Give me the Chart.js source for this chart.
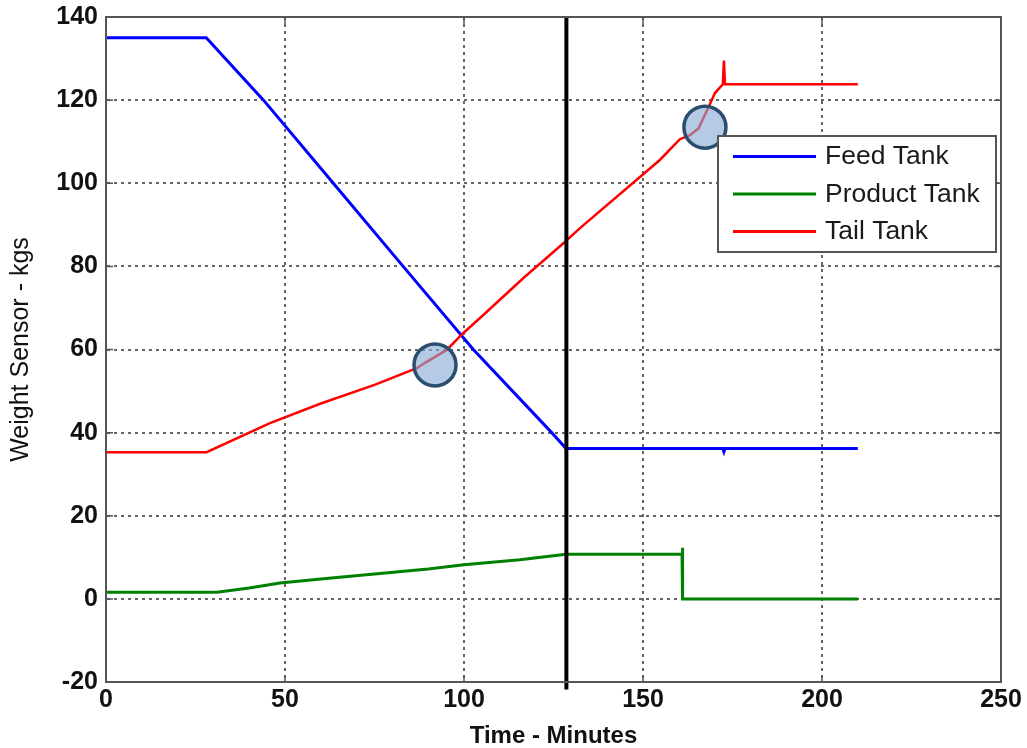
<!DOCTYPE html>
<html>
<head>
<meta charset="utf-8">
<script src="https://cdn.jsdelivr.net/npm/chart.js@4/dist/chart.umd.min.js"></script>
<style>
  html, body { margin: 0; padding: 0; background: #ffffff; }
  #wrap { width: 1027px; height: 748px; }
</style>
</head>
<body>
<div id="wrap"><canvas id="c" width="1027" height="748"></canvas></div>
<script>
// ---- data ----
const seriesNames = ['Feed Tank', 'Product Tank', 'Tail Tank'];
const seriesColors = ['#0000ff', '#008000', '#ff0000'];

const feedTime   = [0, 28, 44, 63.5, 83, 102.6, 124.5, 128.5, 172.3, 172.6, 172.9, 210];
const feedWeight = [135, 135, 120, 100, 80, 60, 40, 36.2, 36.2, 35.4, 36.2, 36.2];

const productTime   = [0, 31, 40, 48.6, 60, 75, 90, 100, 115.6, 128.5, 160.9, 161, 161.1, 210];
const productWeight = [1.6, 1.6, 2.6, 3.8, 4.8, 6.0, 7.2, 8.2, 9.4, 10.75, 10.75, 12.3, 0, 0];

const tailTime   = [0, 28.1, 45.8, 60, 75, 86.8, 89.1, 95.2, 99.6, 105.4, 116.6, 127.3, 132.4, 154.7, 160.3, 163, 165.5, 168.2, 170.1, 172.3, 172.6, 172.9, 210];
const tailWeight = [35.3, 35.3, 42.3, 47.0, 51.5, 55.5, 56.8, 59.9, 63.8, 68.3, 77.2, 85.2, 89.2, 105.6, 110.6, 111.5, 113.2, 118.1, 121.7, 123.8, 129.5, 123.8, 123.8];

const cursorTime = 128.6;
const cursorRange = [140, -21.8];

const markerTime   = [91.9, 167.3];
const markerWeight = [56.3, 113.5];

const xTicks = { min: 0, max: 250, step: 50 };
const yTicks = { min: -20, max: 140, step: 20 };

// ---- helpers ----
const zip = (xs, ys) => xs.map((x, i) => ({ x: x, y: ys[i] }));

const FONT = "'Liberation Sans', Arial, sans-serif";

const framePlugin = {
  id: 'frameAndLegend',
  afterDatasetsDraw(chart) {
    const ctx = chart.ctx;
    const a = chart.chartArea;
    const xs = chart.scales.x, ys = chart.scales.y;
    ctx.save();
    // box frame
    ctx.strokeStyle = '#555555';
    ctx.lineWidth = 2;
    ctx.strokeRect(a.left, a.top, a.right - a.left, a.bottom - a.top);
    // inward tick marks
    ctx.lineWidth = 1.5;
    ctx.beginPath();
    xs.ticks.forEach(t => {
      const px = xs.getPixelForValue(t.value);
      ctx.moveTo(px, a.bottom); ctx.lineTo(px, a.bottom - 7);
      ctx.moveTo(px, a.top); ctx.lineTo(px, a.top + 7);
    });
    ys.ticks.forEach(t => {
      const py = ys.getPixelForValue(t.value);
      ctx.moveTo(a.left, py); ctx.lineTo(a.left + 7, py);
      ctx.moveTo(a.right, py); ctx.lineTo(a.right - 7, py);
    });
    ctx.stroke();

    // legend box
    const lx = 718, ly = 136, lw = 278, lh = 116;
    ctx.fillStyle = '#ffffff';
    ctx.fillRect(lx, ly, lw, lh);
    ctx.strokeStyle = '#555555';
    ctx.lineWidth = 2;
    ctx.strokeRect(lx, ly, lw, lh);
    ctx.textBaseline = 'middle';
    ctx.textAlign = 'left';
    seriesNames.forEach((name, i) => {
      const yy = ly + 20.5 + i * 37.5;
      ctx.strokeStyle = seriesColors[i];
      ctx.lineWidth = 3;
      ctx.beginPath();
      ctx.moveTo(lx + 15, yy);
      ctx.lineTo(lx + 98, yy);
      ctx.stroke();
      ctx.save();
      ctx.translate(lx + 107, yy + 1);
      ctx.scale(1.06, 1);
      ctx.font = '25px ' + FONT;
      ctx.fillStyle = '#1a1a1a';
      ctx.fillText(name, 0, 0);
      ctx.restore();
    });
    ctx.restore();
  }
};

const chart = new Chart(document.getElementById('c'), {
  type: 'line',
  data: {
    datasets: [
      {
        label: 'markers',
        data: zip(markerTime, markerWeight),
        showLine: false,
        pointRadius: 21,
        pointBackgroundColor: 'rgba(135,170,212,0.62)',
        pointBorderColor: '#2b4d70',
        pointBorderWidth: 3.5,
        order: 0
      },
      {
        label: 'cursor',
        data: zip([cursorTime, cursorTime], cursorRange),
        borderColor: '#000000',
        borderWidth: 4,
        pointRadius: 0,
        clip: false,
        order: 1
      },
      {
        label: seriesNames[0],
        data: zip(feedTime, feedWeight),
        borderColor: seriesColors[0],
        borderWidth: 3,
        pointRadius: 0,
        order: 3
      },
      {
        label: seriesNames[1],
        data: zip(productTime, productWeight),
        borderColor: seriesColors[1],
        borderWidth: 3,
        pointRadius: 0,
        order: 4
      },
      {
        label: seriesNames[2],
        data: zip(tailTime, tailWeight),
        borderColor: seriesColors[2],
        borderWidth: 2.5,
        pointRadius: 0,
        order: 2
      }
    ]
  },
  options: {
    responsive: false,
    animation: false,
    events: [],
    layout: { autoPadding: false, padding: { top: 17, right: 26, left: 0, bottom: 0 } },
    elements: { line: { tension: 0, fill: false } },
    plugins: { legend: { display: false }, tooltip: { enabled: false } },
    scales: {
      x: {
        type: 'linear',
        min: xTicks.min, max: xTicks.max,
        afterFit(s) { s.height = 66; s.paddingLeft = 0; s.paddingRight = 0; },
        ticks: {
          stepSize: xTicks.step,
          padding: 3,
          color: '#111111',
          font: { family: FONT, size: 25, weight: 'bold' },
          maxRotation: 0
        },
        grid: { color: '#666666', lineWidth: 2, drawTicks: false },
        border: { display: true, color: '#555555', width: 2, dash: [3, 4] },
        title: {
          display: true,
          text: 'Time - Minutes',
          color: '#111111',
          font: { family: FONT, size: 24, weight: 'bold', lineHeight: 1 },
          padding: { top: 0, bottom: 0 }
        }
      },
      y: {
        min: yTicks.min, max: yTicks.max,
        afterFit(s) { s.width = 106; s.paddingTop = 0; s.paddingBottom = 0; },
        ticks: {
          stepSize: yTicks.step,
          padding: 8,
          color: '#111111',
          font: { family: FONT, size: 25, weight: 'bold' }
        },
        grid: { color: '#666666', lineWidth: 2, drawTicks: false },
        border: { display: true, color: '#555555', width: 2, dash: [3, 4] },
        title: {
          display: true,
          text: 'Weight Sensor - kgs',
          color: '#111111',
          font: { family: FONT, size: 25, lineHeight: 1 },
          padding: { top: 9, bottom: 0 }
        }
      }
    }
  },
  plugins: [framePlugin]
});
</script>
</body>
</html>
